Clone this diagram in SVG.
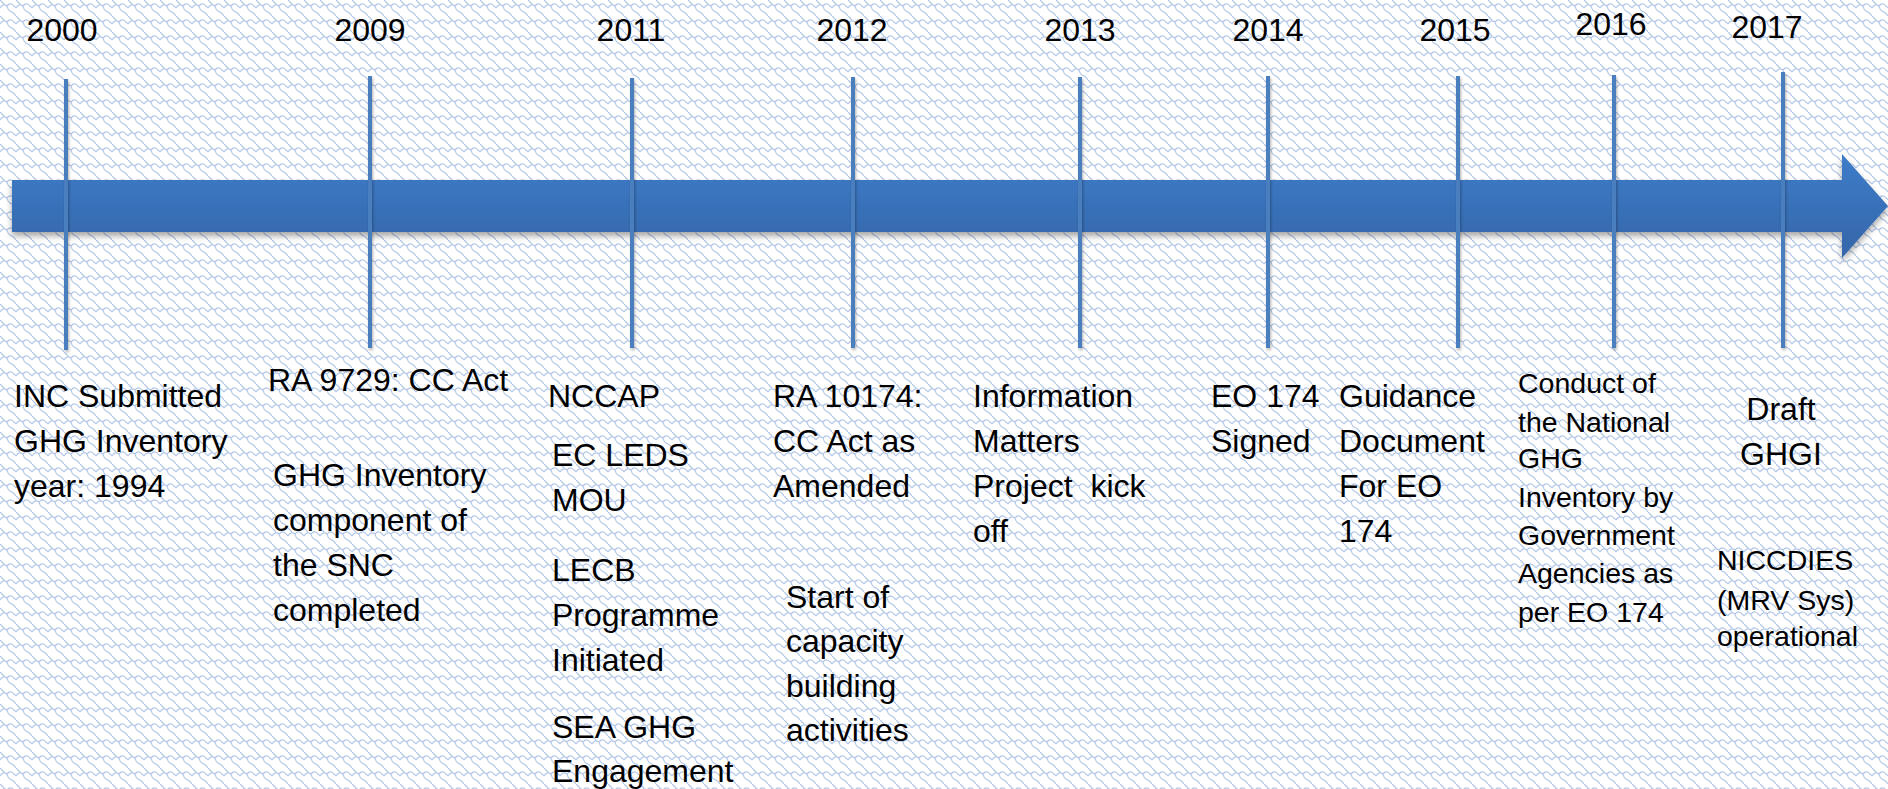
<svg xmlns="http://www.w3.org/2000/svg" width="1888" height="789" viewBox="0 0 1888 789">
<defs>
  <pattern id="bgp" width="16" height="16" patternUnits="userSpaceOnUse">
    <rect width="16" height="16" fill="#ffffff"/>
    <path d="M0,8 Q3,3 7,6 Q11,1 16,8 M7,6 Q8,11 12,12 Q14,13 16,16 M0,0 Q2,2 4,4" fill="none" stroke="#b0c5e6" stroke-width="1.2"/>
  </pattern>
  <linearGradient id="barg" x1="0" y1="0" x2="0" y2="1">
    <stop offset="0" stop-color="#3d7cc9"/>
    <stop offset="1" stop-color="#3566a9"/>
  </linearGradient>
  <filter id="sh" x="-5%" y="-30%" width="110%" height="170%">
    <feDropShadow dx="0" dy="4" stdDeviation="3" flood-color="#000" flood-opacity="0.35"/>
  </filter>
  <filter id="lsh" x="-200%" y="-5%" width="500%" height="110%">
    <feDropShadow dx="1" dy="2" stdDeviation="1.5" flood-color="#000" flood-opacity="0.3"/>
  </filter>
  <style>
    text { font-family: "Liberation Sans", Arial, sans-serif; fill: #000; }
    .yr { font-size: 32px; text-anchor: middle; }
    .t { font-size: 32px; }
    .s { font-size: 28.5px; }
    .tick { stroke: #4a7ebf; stroke-width: 4; fill: none; }
  </style>
</defs>
<rect width="1888" height="789" fill="url(#bgp)"/>

<g id="arrow" filter="url(#sh)">
  <path d="M12,180 L1842,180 L1842,154 L1888,206 L1842,258 L1842,232 L12,232 Z" fill="url(#barg)"/>
</g>

<g id="connectors" filter="url(#lsh)">
  <line class="tick" x1="66" y1="79" x2="66" y2="350"/>
  <line class="tick" x1="370" y1="76" x2="370" y2="348"/>
  <line class="tick" x1="632" y1="78" x2="632" y2="348"/>
  <line class="tick" x1="853" y1="77" x2="853" y2="348"/>
  <line class="tick" x1="1080" y1="77" x2="1080" y2="348"/>
  <line class="tick" x1="1268" y1="76" x2="1268" y2="348"/>
  <line class="tick" x1="1458" y1="76" x2="1458" y2="348"/>
  <line class="tick" x1="1614" y1="75" x2="1614" y2="348"/>
  <line class="tick" x1="1783" y1="72" x2="1783" y2="348"/>
</g>

<g id="m2000">
  <text class="yr" x="62" y="41">2000</text>
  <text class="t"><tspan x="14" y="407">INC Submitted</tspan><tspan x="14" y="452">GHG Inventory</tspan><tspan x="14" y="497">year: 1994</tspan></text>
</g>
<g id="m2009">
  <text class="yr" x="370" y="41">2009</text>
  <text class="t" x="268" y="391">RA 9729: CC Act</text>
  <text class="t"><tspan x="273" y="486">GHG Inventory</tspan><tspan x="273" y="531">component of</tspan><tspan x="273" y="576">the SNC</tspan><tspan x="273" y="621">completed</tspan></text>
</g>
<g id="m2011">
  <text class="yr" x="631" y="41">2011</text>
  <text class="t" x="548" y="407">NCCAP</text>
  <text class="t"><tspan x="552" y="466">EC LEDS</tspan><tspan x="552" y="511">MOU</tspan></text>
  <text class="t"><tspan x="552" y="581">LECB</tspan><tspan x="552" y="626">Programme</tspan><tspan x="552" y="671">Initiated</tspan></text>
  <text class="t"><tspan x="552" y="738">SEA GHG</tspan><tspan x="552" y="782">Engagement</tspan></text>
</g>
<g id="m2012">
  <text class="yr" x="852" y="41">2012</text>
  <text class="t"><tspan x="773" y="407">RA 10174:</tspan><tspan x="773" y="452">CC Act as</tspan><tspan x="773" y="497">Amended</tspan></text>
  <text class="t"><tspan x="786" y="608">Start of</tspan><tspan x="786" y="652">capacity</tspan><tspan x="786" y="697">building</tspan><tspan x="786" y="741">activities</tspan></text>
</g>
<g id="m2013">
  <text class="yr" x="1080" y="41">2013</text>
  <text class="t" style="white-space:pre"><tspan x="973" y="407">Information</tspan><tspan x="973" y="452">Matters</tspan><tspan x="973" y="497">Project  kick</tspan><tspan x="973" y="542">off</tspan></text>
</g>
<g id="m2014">
  <text class="yr" x="1268" y="41">2014</text>
  <text class="t"><tspan x="1211" y="407">EO 174</tspan><tspan x="1211" y="452">Signed</tspan></text>
</g>
<g id="m2015">
  <text class="yr" x="1455" y="41">2015</text>
  <text class="t"><tspan x="1339" y="407">Guidance</tspan><tspan x="1339" y="452">Document</tspan><tspan x="1339" y="497">For EO</tspan><tspan x="1339" y="542">174</tspan></text>
</g>
<g id="m2016">
  <text class="yr" x="1611" y="35">2016</text>
  <text class="s"><tspan x="1518" y="393">Conduct of</tspan><tspan x="1518" y="432">the National</tspan><tspan x="1518" y="468">GHG</tspan><tspan x="1518" y="507">Inventory by</tspan><tspan x="1518" y="545">Government</tspan><tspan x="1518" y="583">Agencies as</tspan><tspan x="1518" y="622">per EO 174</tspan></text>
</g>
<g id="m2017">
  <text class="yr" x="1767" y="38">2017</text>
  <text class="t" text-anchor="middle"><tspan x="1781" y="420">Draft</tspan><tspan x="1781" y="465">GHGI</tspan></text>
  <text class="s"><tspan x="1717" y="570">NICCDIES</tspan><tspan x="1717" y="610">(MRV Sys)</tspan><tspan x="1717" y="646">operational</tspan></text>
</g>
</svg>
